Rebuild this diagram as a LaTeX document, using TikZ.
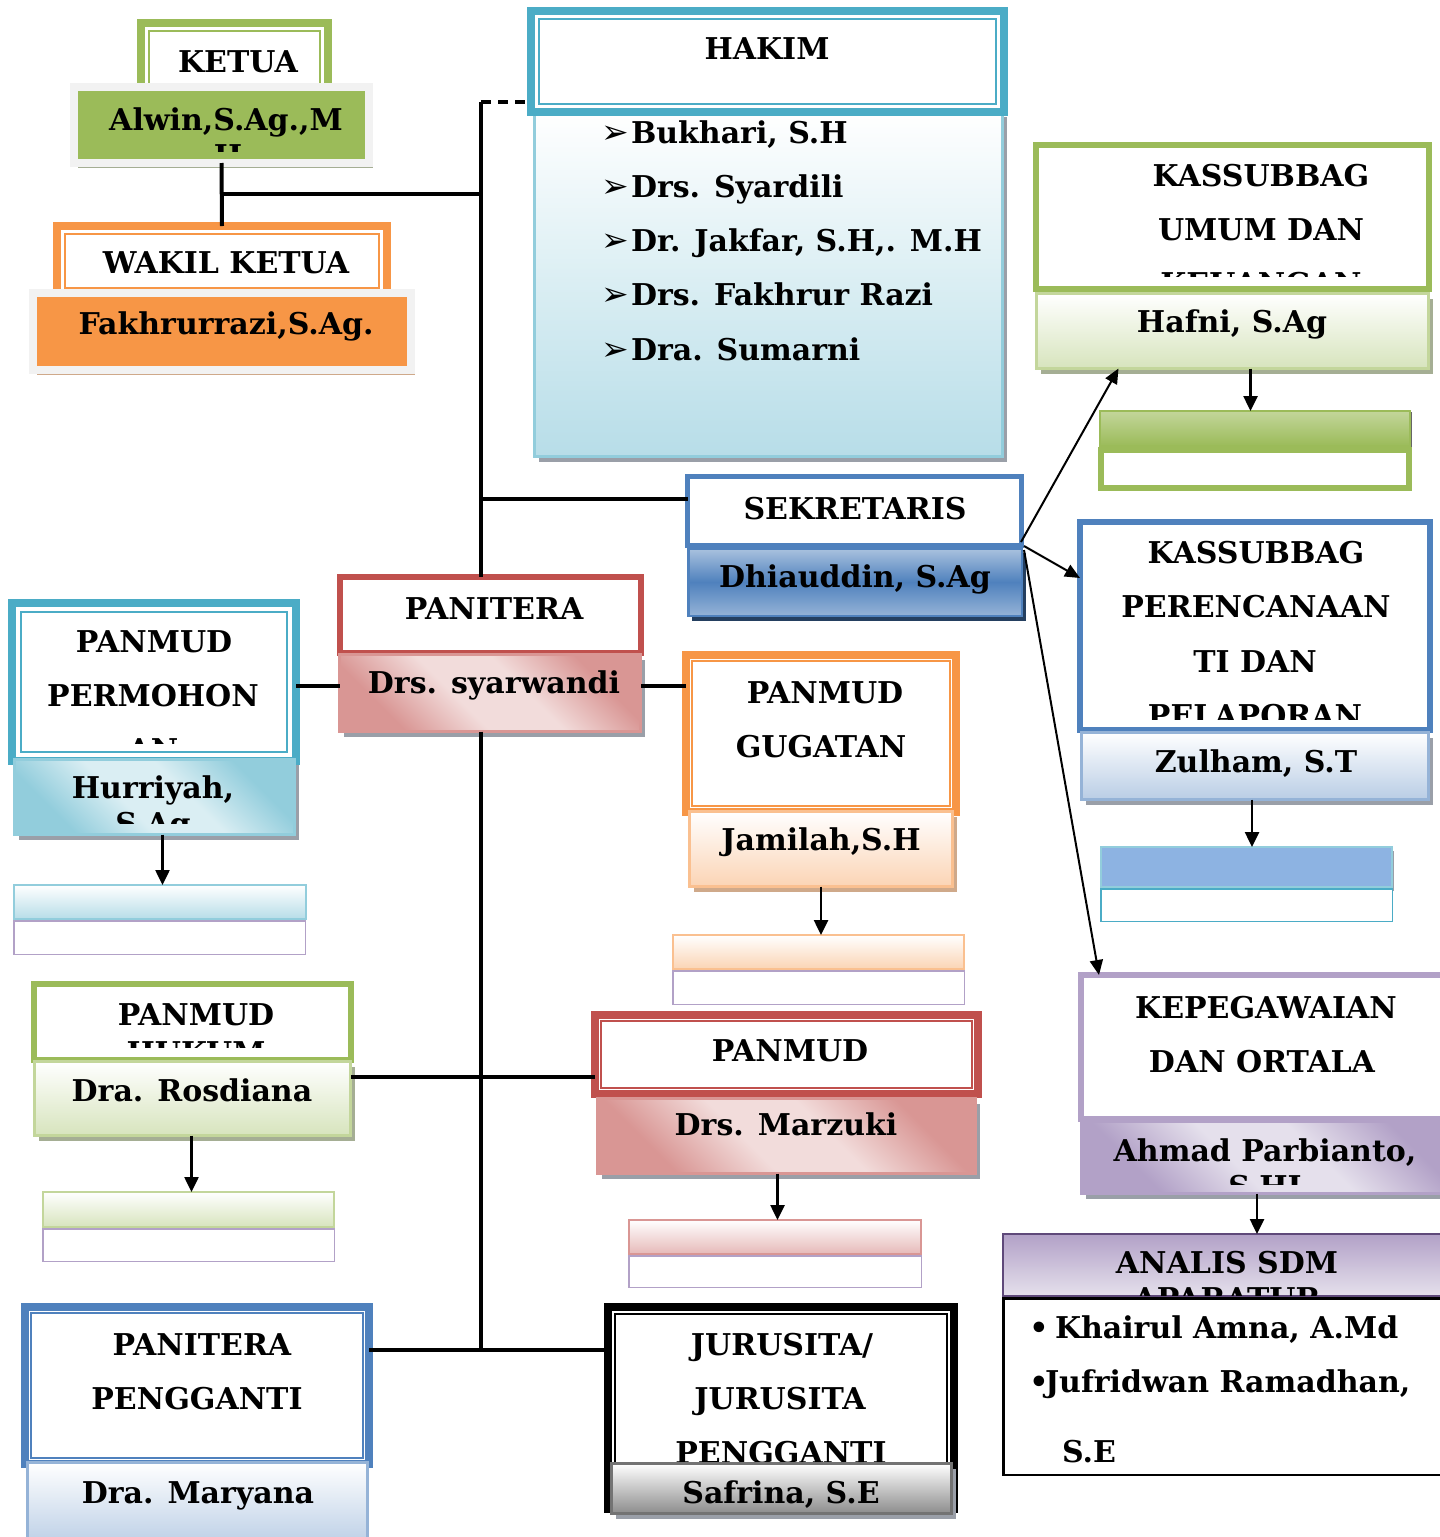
\documentclass[tikz,border=0pt]{standalone}
\usepackage{fontspec}
\setmainfont{DejaVu Serif}
\newfontfamily\symfont{DejaVu Sans}
\usetikzlibrary{arrows.meta,shadows}
\definecolor{cGreen}{HTML}{9BBB59}
\definecolor{cGreenL}{HTML}{C3D69B}
\definecolor{cGreenP}{HTML}{D7E4BD}
\definecolor{cGreenS}{HTML}{A5AE94}
\definecolor{cOrange}{HTML}{F79646}
\definecolor{cOrangeL}{HTML}{FAC090}
\definecolor{cOrangeP}{HTML}{FBD4B4}
\definecolor{cOrangeS}{HTML}{CFA98A}
\definecolor{cTeal}{HTML}{4BACC6}
\definecolor{cTealL}{HTML}{92CDDC}
\definecolor{cTealP}{HTML}{B7DDE8}
\definecolor{cTealPP}{HTML}{DAEEF3}
\definecolor{cBlue}{HTML}{4F81BD}
\definecolor{cBlueL}{HTML}{95B3D7}
\definecolor{cBlueP}{HTML}{B9CDE5}
\definecolor{cBlueN}{HTML}{243F60}
\definecolor{cBlueM}{HTML}{8DB3E2}
\definecolor{cRed}{HTML}{C0504D}
\definecolor{cRedL}{HTML}{D99694}
\definecolor{cRedP}{HTML}{E6B9B8}
\definecolor{cRedPP}{HTML}{F2DCDB}
\definecolor{cPurple}{HTML}{8064A2}
\definecolor{cPurpleL}{HTML}{B2A1C7}
\definecolor{cPurpleP}{HTML}{CCC0DA}
\definecolor{cPurplePP}{HTML}{E5E0EC}
\definecolor{cPurpleD}{HTML}{5F497A}
\definecolor{cFrame}{HTML}{F2F2F2}
\definecolor{cShade}{HTML}{9A9FA8}
\pgfdeclareverticalshading{redband}{100bp}{color(0bp)=(cRedL); color(27bp)=(cRedL); color(43bp)=(cRedPP); color(57bp)=(cRedPP); color(73bp)=(cRedL); color(100bp)=(cRedL)}
\pgfdeclareverticalshading{tealband}{100bp}{color(0bp)=(cTealL); color(27bp)=(cTealL); color(43bp)=(cTealPP); color(57bp)=(cTealPP); color(73bp)=(cTealL); color(100bp)=(cTealL)}
\pgfdeclareverticalshading{purpleband}{100bp}{color(0bp)=(cPurpleL); color(27bp)=(cPurpleL); color(43bp)=(cPurplePP); color(57bp)=(cPurplePP); color(73bp)=(cPurpleL); color(100bp)=(cPurpleL)}
% box: name, x1, y1, x2, y2 (outer edges, px), line width, style
\newcommand\bx[7]{\node[line width=#6, #7, anchor=north west, inner sep=0pt, outer sep=0pt,
  minimum width={#4-#2-#6}, minimum height={#5-#3-#6}] (#1) at ({#2+#6/2},{#3+#6/2}) {};}
% inner thin line of a double-bordered box
\newcommand\inline[3]{\draw[line width=2pt, #2] ([shift={(#3,#3)}]#1.north west) rectangle ([shift={(-#3,-#3)}]#1.south east);}
\begin{document}
\begin{tikzpicture}[x=1pt,y=-1pt,
  txt/.style={font=\fontsize{30}{36}\selectfont\bfseries, inner sep=0pt, outer sep=0pt, anchor=base},
  txtl/.style={txt, anchor=base west},
  bul/.style={font=\symfont\fontsize{33}{36}\selectfont, inner sep=0pt, anchor=base},
  whitebox/.style={draw=#1, fill=white},
  shd/.style={drop shadow={shadow xshift=4pt, shadow yshift=-5pt, fill=#1, opacity=1}},
  framed/.style 2 args={fill=#1, draw=cFrame, shd=#2},
  grad/.style 2 args={draw=#1, top color=white, bottom color=#2},
  diag/.style 2 args={draw=#1, shading=#2, shading angle=-45},
  conn/.style={line width=4pt, draw=black},
  arr/.style={line width=2.5pt, -{Triangle[length=15pt,width=14pt]}},
  sarr/.style={line width=2pt, -{Triangle[length=15pt,width=13pt]}}]
\useasboundingbox (0,0) rectangle (1440,1537);
\fill[white] (0,0) rectangle (1440,1537);
\clip (0,0) rectangle (1440,1537);

% ---------- KETUA ----------
\bx{ketua}{137}{19}{332}{100}{8}{whitebox=cGreen}
\inline{ketua}{cGreen}{8}
\node[txt] (tketua) at (238,72) {KETUA};
\bx{alwin}{70}{83}{373}{167}{8}{framed={cGreen}{cGreenS}}
\begin{scope}
\clip (78,91) rectangle (365,151);
\node[txt] (talwin) at (226,130) {Alwin,S.Ag.,M};
\node[txt] (talwinb) at (228,166) {H};
\end{scope}

% ---------- WAKIL ----------
\bx{wakil}{53}{222}{391}{300}{8}{whitebox=cOrange}
\inline{wakil}{cOrange}{8}
\node[txt] (twakil) at (226,273) {WAKIL KETUA};
\bx{fakh}{29}{289}{415}{374}{8}{framed={cOrange}{cOrangeS}}
\node[txt] (tfakh) at (226,334) {Fakhrurrazi,S.Ag.};

% ---------- HAKIM ----------
\bx{hakimlist}{533}{110}{1004}{458}{3}{draw=cTealL, top color=white, bottom color=cTealP, middle color=cTealPP, shd=cShade}
\bx{hakim}{527}{7}{1008}{116}{8}{whitebox=cTeal}
\inline{hakim}{cTeal}{8}
\node[txt] (thakim) at (767,59) {HAKIM};
\node[bul] (b1) at (615,143) {➢};
\node[txtl] (h1) at (631,143) {Bukhari, S.H};
\node[bul] (b2) at (615,197) {➢};
\node[txtl] (h2) at (631,197) {Drs. Syardili};
\node[bul] (b3) at (615,251) {➢};
\node[txtl] (h3) at (631,251) {Dr. Jakfar, S.H,. M.H};
\node[bul] (b4) at (615,305) {➢};
\node[txtl] (h4) at (631,305) {Drs. Fakhrur Razi};
\node[bul] (b5) at (615,360) {➢};
\node[txtl] (h5) at (631,360) {Dra. Sumarni};

% ---------- KASSUBBAG UMUM ----------
\bx{kasum}{1033}{142}{1432}{292}{6}{whitebox=cGreen}
\begin{scope}
\clip (1040,148) rectangle (1426,276);
\node[txt] (tk1) at (1261,186) {KASSUBBAG};
\node[txt] (tk2) at (1261,240) {UMUM DAN};
\node[txt] (tk3) at (1261,294) {KEUANGAN};
\end{scope}
\bx{hafni}{1035}{292}{1430}{370}{3}{grad={cGreenL}{cGreenP}, shd=cGreenS}
\node[txt] (thafni) at (1232,332) {Hafni, S.Ag};
\bx{hafnibar}{1099}{410}{1411}{447}{2}{draw=cGreen, top color=cGreenL, bottom color=cGreen, drop shadow={shadow xshift=2pt, shadow yshift=-1pt, fill=black!60, opacity=1}}
\bx{hafnibot}{1098}{447}{1412}{491}{6}{whitebox=cGreen}

% ---------- SEKRETARIS ----------
\bx{sek}{685}{474}{1024}{548}{5}{whitebox=cBlue}
\node[txt] (tsek) at (855,519) {SEKRETARIS};
\bx{dhia}{687}{547}{1023}{617}{2.5}{draw=cBlue, top color=cBlueL!80!white, bottom color=cBlueL, middle color=cBlue, shd=cBlueN}
\node[txt] (tdhia) at (855,587) {Dhiauddin, S.Ag};

% ---------- KASSUBBAG PERENCANAAN ----------
\bx{kasper}{1077}{519}{1433}{733}{6}{whitebox=cBlue}
\begin{scope}
\clip (1083,525) rectangle (1427,719);
\node[txt] (tp1) at (1256,563) {KASSUBBAG};
\node[txt] (tp2) at (1256,617) {PERENCANAAN};
\node[txt] (tp3) at (1255,672) {TI DAN};
\node[txt] (tp4) at (1255,726) {PELAPORAN};
\end{scope}
\bx{zulham}{1080}{731}{1430}{801}{3}{grad={cBlueL}{cBlueP}, shd=cShade}
\node[txt] (tzul) at (1256,772) {Zulham, S.T};
\bx{zulbar}{1100}{846}{1393}{888}{2}{fill=cBlueM, draw=cTealL, drop shadow={shadow xshift=2pt, shadow yshift=-4pt, fill=cShade, opacity=1}}
\bx{zulbot}{1100}{888}{1393}{922}{1.5}{whitebox=cTeal}

% ---------- PANITERA ----------
\bx{panitera}{337}{574}{644}{656}{6}{whitebox=cRed}
\node[txt] (tpan) at (494,619) {PANITERA};
\bx{syarw}{338}{653}{642}{733}{3}{diag={cRedL}{redband}, shd=cShade}
\node[txt] (tsyarw) at (494,693) {Drs. syarwandi};

% ---------- PANMUD PERMOHONAN ----------
\bx{permo}{8}{599}{300}{765}{8}{whitebox=cTeal}
\inline{permo}{cTeal}{9}
\begin{scope}
\clip (22,613) rectangle (286,743);
\node[txt] (tpm1) at (154,652) {PANMUD};
\node[txt] (tpm2) at (153,706) {PERMOHON};
\node[txt] (tpm3) at (153,760) {AN};
\end{scope}
\bx{hurri}{13}{758}{296}{836}{3}{diag={cTealL}{tealband}, shd=cShade}
\begin{scope}
\clip (16,761) rectangle (293,823);
\node[txt] (thu1) at (153,798) {Hurriyah,};
\node[txt] (thu2) at (153,834) {S.Ag};
\end{scope}
\bx{hurribar}{13}{884}{307}{920}{2}{grad={cTealL}{cTealP}}
\bx{hurribot}{13}{920}{306}{955}{1.5}{whitebox=cPurpleL}

% ---------- PANMUD GUGATAN ----------
\bx{gugat}{682}{651}{960}{816}{8}{whitebox=cOrange}
\inline{gugat}{cOrange}{6}
\node[txt] (tg1) at (825,703) {PANMUD};
\node[txt] (tg2) at (821,757) {GUGATAN};
\bx{jamil}{688}{810}{954}{888}{3}{grad={cOrangeL}{cOrangeP}, shd=cOrangeS}
\node[txt] (tjamil) at (821,850) {Jamilah,S.H};
\bx{jamilbar}{672}{934}{965}{970}{2}{grad={cOrangeL}{cOrangeP}}
\bx{jamilbot}{672}{970}{965}{1005}{1.5}{whitebox=cPurpleL}

% ---------- PANMUD HUKUM ----------
\bx{hukum}{31}{981}{354}{1063}{6}{whitebox=cGreen}
\begin{scope}
\clip (37,987) rectangle (348,1047);
\node[txt] (thk1) at (196,1025) {PANMUD};
\node[txt] (thk2) at (196,1063) {HUKUM};
\end{scope}
\bx{rosd}{33}{1060}{352}{1137}{3}{grad={cGreenL}{cGreenP}, shd=cGreenS}
\node[txt] (trosd) at (192,1101) {Dra. Rosdiana};
\bx{rosdbar}{42}{1191}{335}{1228}{2}{grad={cGreenL}{cGreenP}}
\bx{rosdbot}{42}{1228}{335}{1262}{1.5}{whitebox=cPurpleL}

% ---------- PANMUD (red) ----------
\bx{pidana}{591}{1011}{982}{1098}{8}{whitebox=cRed}
\inline{pidana}{cRed}{6}
\node[txt] (tpid) at (790,1061) {PANMUD};
\bx{marz}{596}{1097}{977}{1175}{3}{diag={cRedL}{redband}, shd=cShade}
\node[txt] (tmarz) at (786,1135) {Drs. Marzuki};
\bx{marzbar}{628}{1219}{922}{1255}{2}{draw=cRedL, top color=white, bottom color=cRedP}
\bx{marzbot}{628}{1255}{922}{1288}{1.5}{whitebox=cPurpleL}

% ---------- JURUSITA ----------
\bx{juru}{604}{1303}{958}{1513}{8}{whitebox=black}
\inline{juru}{black}{7}
\node[txt] (tj1) at (782,1355) {JURUSITA/};
\node[txt] (tj2) at (780,1409) {JURUSITA};
\node[txt] (tj3) at (781,1463) {PENGGANTI};
\bx{safr}{610}{1462}{953}{1515}{3}{draw=black!55, top color=white, bottom color=black!45, shd=cShade}
\node[txt] (tsafr) at (781,1503) {Safrina, S.E};

% ---------- PANITERA PENGGANTI ----------
\bx{pp}{21}{1303}{373}{1468}{8}{whitebox=cBlue}
\inline{pp}{cBlue}{6}
\node[txt] (tpp1) at (202,1355) {PANITERA};
\node[txt] (tpp2) at (197,1409) {PENGGANTI};
\bx{mary}{26}{1461}{369}{1550}{3}{grad={cBlueL}{cBlueP}}
\node[txt] (tmary) at (198,1503) {Dra. Maryana};

% ---------- KEPEGAWAIAN ----------
\bx{kepeg}{1078}{972}{1470}{1122}{6}{whitebox=cPurpleL}
\node[txt] (tkp1) at (1266,1018) {KEPEGAWAIAN};
\node[txt] (tkp2) at (1262,1072) {DAN ORTALA};
\bx{ahmad}{1080}{1120}{1470}{1195}{3}{diag={cPurpleL}{purpleband}, shd=cShade}
\begin{scope}
\clip (1083,1123) rectangle (1440,1184);
\node[txt] (tah1) at (1265,1161) {Ahmad Parbianto,};
\node[txt] (tah2) at (1265,1197) {S.HI};
\end{scope}
\bx{analis}{1002}{1233}{1470}{1297}{2}{draw=cPurpleD, top color=cPurpleL, bottom color=cPurplePP}
\begin{scope}
\clip (1004,1235) rectangle (1440,1295);
\node[txt] (tan1) at (1227,1273) {ANALIS SDM};
\node[txt] (tan2) at (1227,1309) {APARATUR};
\end{scope}
\bx{anlist}{1002}{1297}{1470}{1476}{2.5}{whitebox=black}
\node[txt] (bk1) at (1039,1338) {•};
\node[txtl] (tan3) at (1055,1338) {Khairul Amna, A.Md};
\node[txt] (bk2) at (1039,1392) {•};
\node[txtl] (tan4) at (1045,1392) {Jufridwan Ramadhan,};
\node[txtl] (tan5) at (1062,1462) {S.E};

% ---------- connectors ----------
\coordinate (vtop) at (481,102);
\coordinate (vbot) at (481,1350);
\coordinate (j1) at (222,194);
\coordinate (j2) at (481,499);
\coordinate (j3) at (481,686);
\coordinate (j4) at (481,1077);
\draw[conn] (alwin.south) -- (wakil.north);
\draw[conn] (j1) -- (j1 -| vtop);
\draw[conn] (vtop) -- (vtop |- panitera.north);
\draw[conn] (vtop |- syarw.south) -- (vbot);
\draw[conn, dash pattern=on 10pt off 7pt] (vtop) -- (vtop -| hakim.west);
\draw[conn] (j2) -- (j2 -| sek.west);
\draw[conn] (j3 -| permo.east) -- (j3 -| panitera.west);
\draw[conn] (j3 -| panitera.east) -- (j3 -| gugat.west);
\draw[conn] (j4 -| hukum.east) -- (j4 -| pidana.west);
\draw[conn] (vbot -| pp.east) -- (vbot -| juru.west);

% secretary arrows
\coordinate (s0) at (1021,542);
\coordinate (s1) at (1024,546);
\coordinate (s2) at (1024,550);
\draw[sarr] (s0) -- ([xshift=82pt]hafni.south west);
\draw[sarr] (s1) -- ([yshift=-56pt]kasper.north west);
\draw[sarr] (s2) -- ([xshift=18pt]kepeg.north west);

% down arrows
\coordinate (a1) at ([xshift=18pt]hafni.south);
\draw[arr] (a1) -- (a1 |- hafnibar.north);
\coordinate (a6) at ([xshift=-3pt]zulham.south);
\draw[arr] (a6) -- (a6 |- zulbar.north);
\coordinate (a2) at ([xshift=8pt]hurri.south);
\draw[arr] (a2) -- (a2 |- hurribar.north);
\draw[arr] (jamil.south) -- (jamil.south |- jamilbar.north);
\coordinate (a3) at ([xshift=-1pt]rosd.south);
\draw[arr] (a3) -- (a3 |- rosdbar.north);
\coordinate (a4) at ([xshift=-9pt]marz.south);
\draw[arr] (a4) -- (a4 |- marzbar.north);
\coordinate (a5) at ([xshift=-18pt]ahmad.south);
\draw[arr] (a5) -- (a5 |- analis.north);
\end{tikzpicture}
\end{document}
